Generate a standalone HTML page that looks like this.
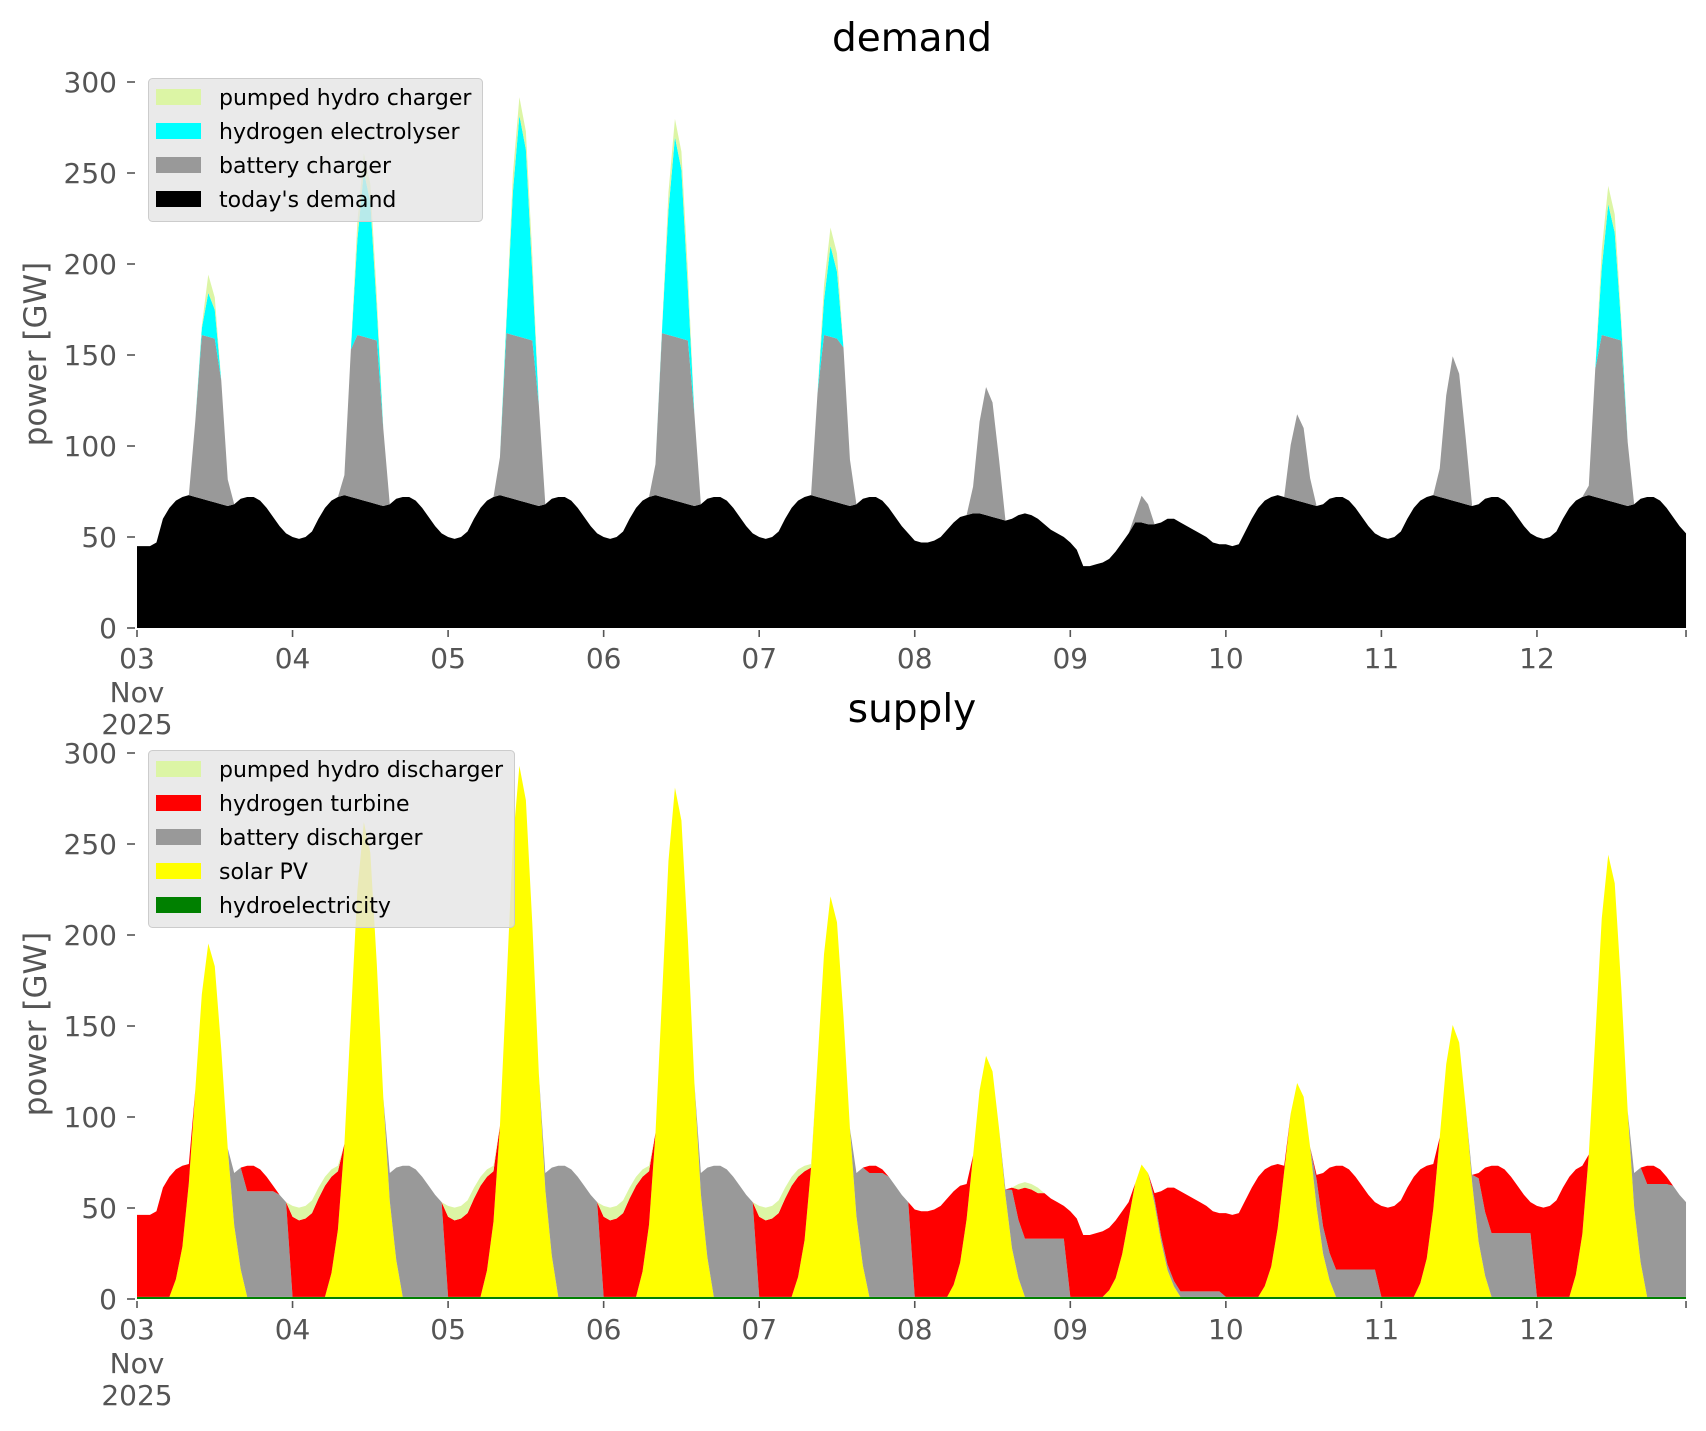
<!DOCTYPE html>
<html><head><meta charset="utf-8">
<style>
body{margin:0;background:#fff;}
svg{display:block;font-family:"DejaVu Sans","Liberation Sans",sans-serif;}
</style></head>
<body>
<svg id="s" width="1706" height="1431" viewBox="0 0 1706 1431" xmlns="http://www.w3.org/2000/svg">
<rect width="1706" height="1431" fill="#fff"/>
<g id="plots"></g>
<g id="axes"></g>
<text x="912" y="51" font-size="39" text-anchor="middle" fill="#000">demand</text>
<text x="912" y="722" font-size="39" text-anchor="middle" fill="#000">supply</text>
<text transform="translate(46,354) rotate(-90)" font-size="31" text-anchor="middle" fill="#555">power [GW]</text>
<text transform="translate(46,1024) rotate(-90)" font-size="31" text-anchor="middle" fill="#555">power [GW]</text>
<!-- demand legend -->
<g>
<rect x="148.5" y="78.5" width="334" height="143" rx="4" fill="rgba(229,229,229,0.8)" stroke="#cccccc"/>
<rect x="156" y="89" width="45" height="16" fill="#dcf5a5"/>
<rect x="156" y="123" width="45" height="16" fill="#00ffff"/>
<rect x="156" y="157" width="45" height="16" fill="#999999"/>
<rect x="156" y="191" width="45" height="16" fill="#000"/>
<g font-size="22" fill="#000">
<text x="219" y="105">pumped hydro charger</text>
<text x="219" y="139">hydrogen electrolyser</text>
<text x="219" y="173">battery charger</text>
<text x="219" y="207">today's demand</text>
</g></g>
<!-- supply legend -->
<g>
<rect x="148.5" y="750.5" width="366" height="177" rx="4" fill="rgba(229,229,229,0.8)" stroke="#cccccc"/>
<rect x="156" y="761" width="45" height="16" fill="#dcf5a5"/>
<rect x="156" y="795" width="45" height="16" fill="#ff0000"/>
<rect x="156" y="829" width="45" height="16" fill="#999999"/>
<rect x="156" y="863" width="45" height="16" fill="#ffff00"/>
<rect x="156" y="897" width="45" height="16" fill="#008000"/>
<g font-size="22" fill="#000">
<text x="219" y="777">pumped hydro discharger</text>
<text x="219" y="811">hydrogen turbine</text>
<text x="219" y="845">battery discharger</text>
<text x="219" y="879">solar PV</text>
<text x="219" y="913">hydroelectricity</text>
</g></g>
</svg>
<script>
(function(){
var NS="http://www.w3.org/2000/svg";
var X0=137, DW=155.55, K=1.82;
function X(t){return X0+t/24*DW;}
var tmpl=[50,49,50,53,60,66,70,72,73,72,71,70,69,68,67,68,71,72,72,70,66,61,56,52];
function base(d,h){
  if(d==0&&h<4) return [45,45,45,47][h];
  if(d==5){var a=[48,47,47,48,50,54,58,61,62,63,63,62,61,60,59,60,62,63,62,60,57,54,52,50];return a[h];}
  if(d==6){var b=[47,43,34,34,35,36,38,42,47,52,58,58,57,57,58,60,60,58,56,54,52,50,47,46];return b[h];}
  if(d==7&&h<3) return [46,45,46][h];
  return tmpl[h];
}
var P=[195,262,293,281,221,133,73,118,150,244];
var B=[58,75,75,75,68,32,3,15,35,62];
function solar(d,h){var dh=h-11.2;if(Math.abs(dh)>5.6)return 0;return P[d]*Math.exp(-Math.pow(dh/3.0,2));}
var N=240, L={};
var keys=['base','bc','el','pc','hy','so','bd','ht','pd'];
keys.forEach(function(k){L[k]=[];});
for(var t=0;t<N;t++){
  var d=Math.floor(t/24),h=t%24;
  var b=base(d,h), s=solar(d,h);
  var ex=Math.max(0,s-b);
  var bc=Math.min(ex,90);
  var pc=Math.min(10,Math.max(0,ex-90)*0.3);
  var el=Math.max(0,ex-bc-pc);
  L.base.push(b);L.bc.push(bc);L.el.push(el);L.pc.push(pc);
  var def=Math.max(0,b-s);
  var bd=(h>=13)?Math.min(def,B[d]):0;
  var pd=0;
  if(d>=1&&d<=4&&h<9) pd=Math.min(def-bd,[6,7,7,7,6,5,4,3,2][h]);
  if(d==5&&h>=16&&h<=19) pd=Math.min(def-bd,3);
  var ht=Math.max(0,def-bd-pd);
  L.hy.push(1.2);L.so.push(Math.max(s,0));L.bd.push(bd);L.ht.push(ht);L.pd.push(pd);
}
var g=document.getElementById('plots');
function stack(order,colors,y0){
  var cum=new Array(N).fill(0);
  order.forEach(function(k,i){
    var lo=cum.slice();
    for(var t=0;t<N;t++) cum[t]+=L[k][t];
    var pts=[];
    for(var t=0;t<N;t++) pts.push(X(t).toFixed(2)+','+(y0-cum[t]*K).toFixed(2));
    for(var t=N-1;t>=0;t--) pts.push(X(t).toFixed(2)+','+(y0-lo[t]*K).toFixed(2));
    var p=document.createElementNS(NS,'polygon');
    p.setAttribute('points',pts.join(' '));p.setAttribute('fill',colors[i]);
    g.appendChild(p);
  });
}
stack(['base','bc','el','pc'],['#000000','#999999','#00ffff','#dcf5a5'],628);
stack(['hy','so','bd','ht','pd'],['#008000','#ffff00','#999999','#ff0000','#dcf5a5'],1299);
var a=document.getElementById('axes'),html='';
[628,1299].forEach(function(y0){
  for(var v=0;v<=300;v+=50){
    var y=y0-v*K;
    html+='<line x1="127" x2="135" y1="'+y+'" y2="'+y+'" stroke="#555" stroke-width="1.6"/>';
    html+='<text x="117" y="'+(y+10)+'" font-size="28" fill="#555" text-anchor="end">'+v+'</text>';
  }
  var labs=['03','04','05','06','07','08','09','10','11','12'];
  for(var i=0;i<=10;i++){
    var x=X0+i*DW; if(i==10) x=X(239);
    html+='<line x1="'+x+'" x2="'+x+'" y1="'+(y0+2)+'" y2="'+(y0+9)+'" stroke="#555" stroke-width="1.6"/>';
    if(i<10) html+='<text x="'+x+'" y="'+(y0+40)+'" font-size="28" fill="#555" text-anchor="middle">'+labs[i]+'</text>';
  }
  html+='<text x="137" y="'+(y0+74)+'" font-size="28" fill="#555" text-anchor="middle">Nov</text>';
  html+='<text x="137" y="'+(y0+106)+'" font-size="28" fill="#555" text-anchor="middle">2025</text>';
});
a.innerHTML=html;
})();
</script>
</body></html>
